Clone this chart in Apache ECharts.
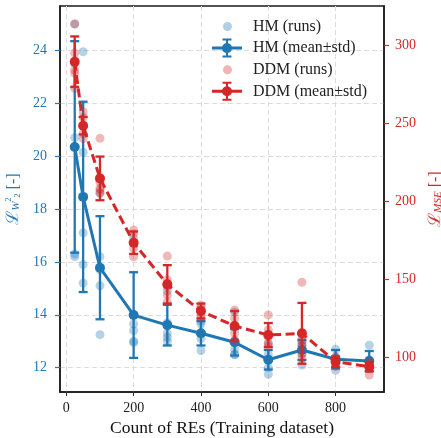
<!DOCTYPE html>
<html>
<head>
<meta charset="utf-8">
<script src="https://cdn.jsdelivr.net/npm/echarts@6/dist/echarts.min.js"></script>
<style>html,body{margin:0;padding:0;background:#fff;}#c{width:441px;height:438px;}</style>
</head>
<body>
<div id="c"></div>
<script>
// ---- data ----
const xs = [25, 50, 100, 200, 300, 400, 500, 600, 700, 800, 900];

const hmRuns = [
  [25.0, 23.5, 20.7, 16.3, 16.2],
  [23.95, 20.15, 17.1, 15.9, 15.2],
  [18.6, 16.2, 15.7, 15.1, 13.25],
  [16.9, 13.65, 13.4, 13.0, 12.95],
  [14.9, 13.7, 13.3, 13.15, 13.0],
  [13.75, 13.65, 13.3, 13.1, 12.65],
  [14.1, 13.0, 12.7, 12.5, 12.5],
  [12.9, 12.5, 12.3, 12.0, 11.75],
  [13.0, 12.9, 12.8, 12.5, 12.1],
  [12.7, 12.4, 12.3, 12.2, 11.9],
  [12.85, 12.3, 12.1, 12.0, 11.95]
];
const hmMean = [20.35, 18.46, 15.78, 13.99, 13.61, 13.30, 12.96, 12.30, 12.67, 12.32, 12.25];
const hmStd  = [4.0, 3.6, 1.95, 1.62, 0.77, 0.46, 0.5, 0.37, 0.38, 0.35, 0.38];

const ddmRuns = [
  [313.5, 294.7, 284, 282, 272.2],
  [257.2, 253.5, 248, 243, 240],
  [240.2, 212, 208, 207, 205.3],
  [181.4, 179, 173, 169.7, 164.3],
  [164.7, 149.5, 145, 140, 135.4],
  [133.3, 132, 130, 127, 125],
  [130.1, 124.8, 119.5, 115.4, 110.9],
  [127, 117.5, 113, 109.2, 106.8],
  [147.9, 110.9, 107.7, 102.4, 99.1],
  [100, 98.5, 97, 95.5, 94],
  [97, 95, 94.5, 94, 88.5]
];
const ddmMean = [289.3, 248.3, 214.5, 173.3, 146.6, 129.5, 119.9, 114.1, 115.2, 97.0, 93.8];
const ddmStd  = [16.2, 5.6, 14.0, 7.2, 12.3, 4.8, 9.6, 7.7, 19.5, 3.3, 3.0];

const xTicks = [0, 200, 400, 600, 800];
const leftTicks = [12, 14, 16, 18, 20, 22, 24];
const rightTicks = [100, 150, 200, 250, 300];

const seriesNames = ['HM (runs)', 'HM (mean±std)', 'DDM (runs)', 'DDM (mean±std)'];
const xTitle = 'Count of REs (Training dataset)';

// ---- styling ----
const BLUE = '#1f77b4', RED = '#d62728';
const FONT = 'Liberation Serif';

function runsData(runs) {
  const out = [];
  runs.forEach((r, i) => r.forEach(v => out.push([xs[i], v])));
  return out;
}
function errData(mean, std) {
  return xs.map((x, i) => [x, mean[i] - std[i], mean[i] + std[i]]);
}
function errRender(color) {
  return function (params, api) {
    const x = api.value(0), lo = api.value(1), hi = api.value(2);
    const t = api.coord([x, hi]), b = api.coord([x, lo]);
    const hw = 4.5;
    const st = { stroke: color, lineWidth: 2.3 };
    return { type: 'group', children: [
      { type: 'line', shape: { x1: t[0], y1: t[1], x2: b[0], y2: b[1] }, style: st },
      { type: 'line', shape: { x1: t[0] - hw, y1: t[1], x2: t[0] + hw, y2: t[1] }, style: st },
      { type: 'line', shape: { x1: b[0] - hw, y1: b[1], x2: b[0] + hw, y2: b[1] }, style: st }
    ]};
  };
}

const dotIcon = 'path://M0 0L0.01 0L0.01 0.01Z M36 19L36.01 19L36.01 19.01Z M11 9.5A4.5 4.5 0 1 1 20 9.5A4.5 4.5 0 1 1 11 9.5Z';
const errIcon = 'path://M0 0L0.01 0L0.01 0.01Z M36 19L36.01 19L36.01 19.01Z ' +
  'M0 8L30 8L30 11L0 11Z ' +
  'M14 0.5L16 0.5L16 18.5L14 18.5Z ' +
  'M10.5 0L19.5 0L19.5 2L10.5 2Z M10.5 17L19.5 17L19.5 19L10.5 19Z ' +
  'M10 9.5A5 5 0 1 1 20 9.5A5 5 0 1 1 10 9.5Z';

const chart = echarts.init(document.getElementById('c'), null, { renderer: 'canvas' });
const option = {
  animation: false,
  textStyle: { fontFamily: FONT },
  grid: { left: 60, right: 57, top: 6, bottom: 46, show: true, borderColor: '#1a1a1a', borderWidth: 1.5,
          backgroundColor: 'transparent', containLabel: false, outerBoundsMode: 'none' },
  legend: {
    orient: 'vertical', left: 212, top: 17, itemWidth: 36, itemHeight: 19, itemGap: 2.6, padding: 0,
    textStyle: { fontFamily: FONT, fontSize: 16, color: '#222' },
    data: [
      { name: seriesNames[0], icon: dotIcon, itemStyle: { color: BLUE, opacity: 0.35 } },
      { name: seriesNames[1], icon: errIcon, itemStyle: { color: BLUE, opacity: 1 } },
      { name: seriesNames[2], icon: dotIcon, itemStyle: { color: RED, opacity: 0.35 } },
      { name: seriesNames[3], icon: errIcon, itemStyle: { color: RED, opacity: 1 } }
    ]
  },
  xAxis: {
    type: 'value', min: -18.75, max: 943.75, splitNumber: 5,
    name: xTitle, nameLocation: 'middle', nameGap: 27,
    nameTextStyle: { fontFamily: FONT, fontSize: 17.5, color: '#111' },
    axisLine: { show: true, onZero: false, lineStyle: { color: '#1a1a1a', width: 1.5 } },
    axisTick: { show: true, length: 4, customValues: xTicks, lineStyle: { color: '#333' } },
    axisLabel: { customValues: xTicks, margin: 9, fontFamily: FONT, fontSize: 14, color: '#222' },
    splitLine: { show: true, lineStyle: { color: '#dcdcdc', type: [5, 3], width: 1 } }
  },
  yAxis: [
    {
      type: 'value', min: 11.08, max: 25.68, splitNumber: 7, position: 'left',
      name: '{L|ℒ}{w|W}{s|2}{b|2}{n| [-]}', nameLocation: 'middle', nameGap: 35, nameRotate: 90,
      nameTextStyle: { color: BLUE, rich: {
        L: { fontFamily: 'DejaVu Serif', fontSize: 17, color: BLUE },
        w: { fontFamily: FONT, fontStyle: 'italic', fontSize: 11, color: BLUE, verticalAlign: 'bottom', padding: [6, 0, 0, 0] },
        s: { fontFamily: FONT, fontSize: 8, color: BLUE, verticalAlign: 'top' },
        b: { fontFamily: FONT, fontSize: 8, color: BLUE, verticalAlign: 'bottom' },
        n: { fontFamily: FONT, fontSize: 16, color: BLUE }
      } },
      axisLine: { show: true, onZero: false, lineStyle: { color: '#1a1a1a', width: 1.5 } },
      axisTick: { show: true, length: 5, customValues: leftTicks, lineStyle: { color: BLUE, width: 1.2 } },
      axisLabel: { customValues: leftTicks, margin: 13, fontFamily: FONT, fontSize: 14, color: BLUE },
      splitLine: { show: true, lineStyle: { color: '#dcdcdc', type: [5, 3], width: 1 } }
    },
    {
      type: 'value', min: 77.6, max: 325, splitNumber: 5, position: 'right',
      name: '{L|ℒ}{w|MSE}{n| [-]}', nameLocation: 'middle', nameGap: 38, nameRotate: 90,
      nameTextStyle: { color: RED, rich: {
        L: { fontFamily: 'DejaVu Serif', fontSize: 17, color: RED },
        w: { fontFamily: FONT, fontStyle: 'italic', fontSize: 11, color: RED, verticalAlign: 'bottom', padding: [6, 0, 0, 0] },
        n: { fontFamily: FONT, fontSize: 16, color: RED }
      } },
      axisLine: { show: true, onZero: false, lineStyle: { color: '#1a1a1a', width: 1.5 } },
      axisTick: { show: true, length: 5, customValues: rightTicks, lineStyle: { color: RED, width: 1.2 } },
      axisLabel: { customValues: rightTicks, margin: 11, fontFamily: FONT, fontSize: 14, color: RED },
      splitLine: { show: false }
    }
  ],
  series: [
    { name: seriesNames[0], type: 'scatter', yAxisIndex: 0, data: runsData(hmRuns), symbolSize: 9,
      itemStyle: { color: BLUE, opacity: 0.33 }, z: 2 },
    { name: seriesNames[1], type: 'custom', yAxisIndex: 0, data: errData(hmMean, hmStd),
      encode: { x: 0, y: [1, 2] }, renderItem: errRender(BLUE), z: 3 },
    { name: seriesNames[1], type: 'line', yAxisIndex: 0, data: xs.map((x, i) => [x, hmMean[i]]),
      symbol: 'circle', symbolSize: 10, showSymbol: true, lineStyle: { color: BLUE, width: 3 },
      itemStyle: { color: BLUE }, z: 3 },
    { name: seriesNames[2], type: 'scatter', yAxisIndex: 1, data: runsData(ddmRuns), symbolSize: 9,
      itemStyle: { color: RED, opacity: 0.33 }, z: 4 },
    { name: seriesNames[3], type: 'custom', yAxisIndex: 1, data: errData(ddmMean, ddmStd),
      encode: { x: 0, y: [1, 2] }, renderItem: errRender(RED), z: 5 },
    { name: seriesNames[3], type: 'line', yAxisIndex: 1, data: xs.map((x, i) => [x, ddmMean[i]]),
      symbol: 'circle', symbolSize: 10, showSymbol: true, lineStyle: { color: RED, width: 3, type: [9, 4.5] },
      itemStyle: { color: RED }, z: 5 }
  ]
};
chart.setOption(option);
</script>
</body>
</html>
